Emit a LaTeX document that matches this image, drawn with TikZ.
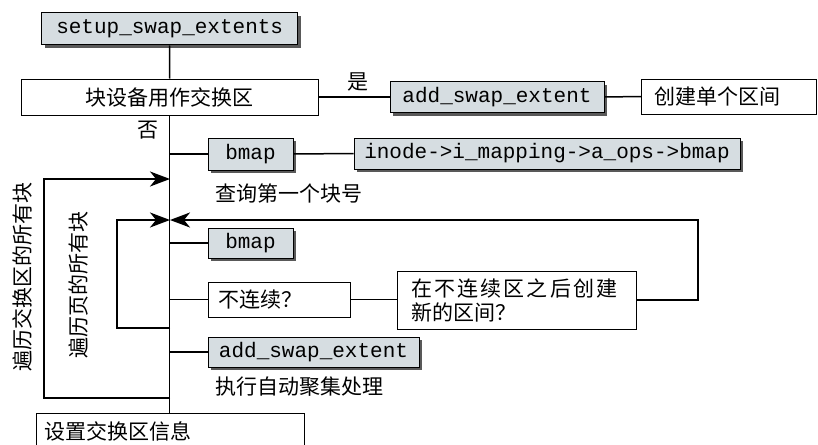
\documentclass[tikz,border=0pt]{standalone}
\usepackage{fontspec}
\setmainfont{Noto Sans CJK SC}
\setmonofont{Liberation Mono}
\usetikzlibrary{shadows,arrows.meta}
\tikzset{
  fn/.style={draw=black, line width=1pt, fill=boxfill, inner sep=0pt, font=\fontsize{21}{24}\ttfamily,
     drop shadow={shadow xshift=3pt, shadow yshift=-3pt, fill=black!65, opacity=1}},
  wbox/.style={draw=black, line width=1pt, fill=white, inner sep=0pt, font=\fontsize{21}{24}\selectfont},
  lbl/.style={inner sep=0pt, font=\fontsize{21}{24}\selectfont},
  conn/.style={line width=1.5pt},
  loop/.style={line width=2pt},
  arr/.style={-{Stealth[length=20pt,width=15pt,inset=6pt]}}
}
\definecolor{boxfill}{HTML}{D6DDE1}
\begin{document}
\begin{tikzpicture}[x=1pt,y=-1pt]
\useasboundingbox (0,0) rectangle (818,444);
\clip (0,0) rectangle (818,444);
% nodes
\node[fn, minimum width=256pt, minimum height=32pt] (setup) at (169.7,29) {setup\_swap\_extents};
\node[wbox, minimum width=297pt, minimum height=36pt] (dev) at (169.5,97) {块设备用作交换区};
\node[fn, minimum width=214pt, minimum height=31pt] (add1) at (497,97) {add\_swap\_extent};
\node[wbox, minimum width=175pt, minimum height=35pt, text width=149pt, align=left] (single) at (729,96.5) {创建单个区间};
\node[fn, minimum width=85pt, minimum height=32pt] (bmap1) at (250.5,154) {bmap};
\node[fn, minimum width=386pt, minimum height=31pt] (inode) at (547,153.5) {inode->i\_mapping->a\_ops->bmap};
\node[lbl, anchor=west] (q1) at (215,193) {查询第一个块号};
\node[fn, minimum width=85pt, minimum height=30pt] (bmap2) at (250.5,243) {bmap};
\node[wbox, minimum width=142pt, minimum height=35pt, text width=122pt, align=left] (disc) at (279,299.5) {不连续？};
\node[wbox, minimum width=239pt, minimum height=58pt, text width=210pt, align=left] (newext) at (516.5,300) {{\addfontfeature{LetterSpace=10}在不连续区之后创建}\\新的区间？};
\node[fn, minimum width=211pt, minimum height=30pt] (add2) at (313.5,352) {add\_swap\_extent};
\node[lbl, anchor=west] (q2) at (215,387) {执行自动聚集处理};
\node[wbox, minimum width=268pt, inner ysep=8pt, text width=252pt, align=left, anchor=north west] (info) at (36,413) {设置交换区信息};
\node[lbl] (yes) at (358,82) {是};
\node[lbl] (no) at (148,130) {否};
\node[lbl, rotate=90] (outerlbl) at (22,277) {遍历交换区的所有块};
\node[lbl, rotate=90] (innerlbl) at (79,285) {遍历页的所有块};
% junction coordinates on the main line
\coordinate (jb1) at (170,154);
\coordinate (jo) at (170,179);
\coordinate (ji) at (170,220);
\coordinate (jb2) at (170,243);
\coordinate (jd) at (170,299.5);
\coordinate (jil) at (170,328);
\coordinate (ja2) at (170,352);
\coordinate (jol) at (170,398);
\coordinate (ol) at (44,179);
\coordinate (il) at (116.5,220);
\coordinate (rr) at (698,220);
% connectors
\draw[conn] (setup.south) -- (dev.north);
\draw[conn] (dev.south) -- (info.north -| dev.south);
\draw[conn] (dev.east) -- (add1.west);
\draw[conn] (add1.east) -- (single.west);
\draw[conn] (jb1) -- (bmap1.west);
\draw[conn] (bmap1.east) -- (inode.west);
\draw[conn] (jb2) -- (bmap2.west);
\draw[conn] (jd) -- (disc.west);
\draw[conn] (disc.east) -- (disc.east -| newext.west);
\draw[conn] (ja2) -- (add2.west);
\draw[loop, arr] (jol) -| (ol) -- (jo);
\draw[loop, arr] (jil) -| (il) -- (ji);
\draw[loop, arr] (newext.east) -| (rr) -- (ji);
\end{tikzpicture}
\end{document}
